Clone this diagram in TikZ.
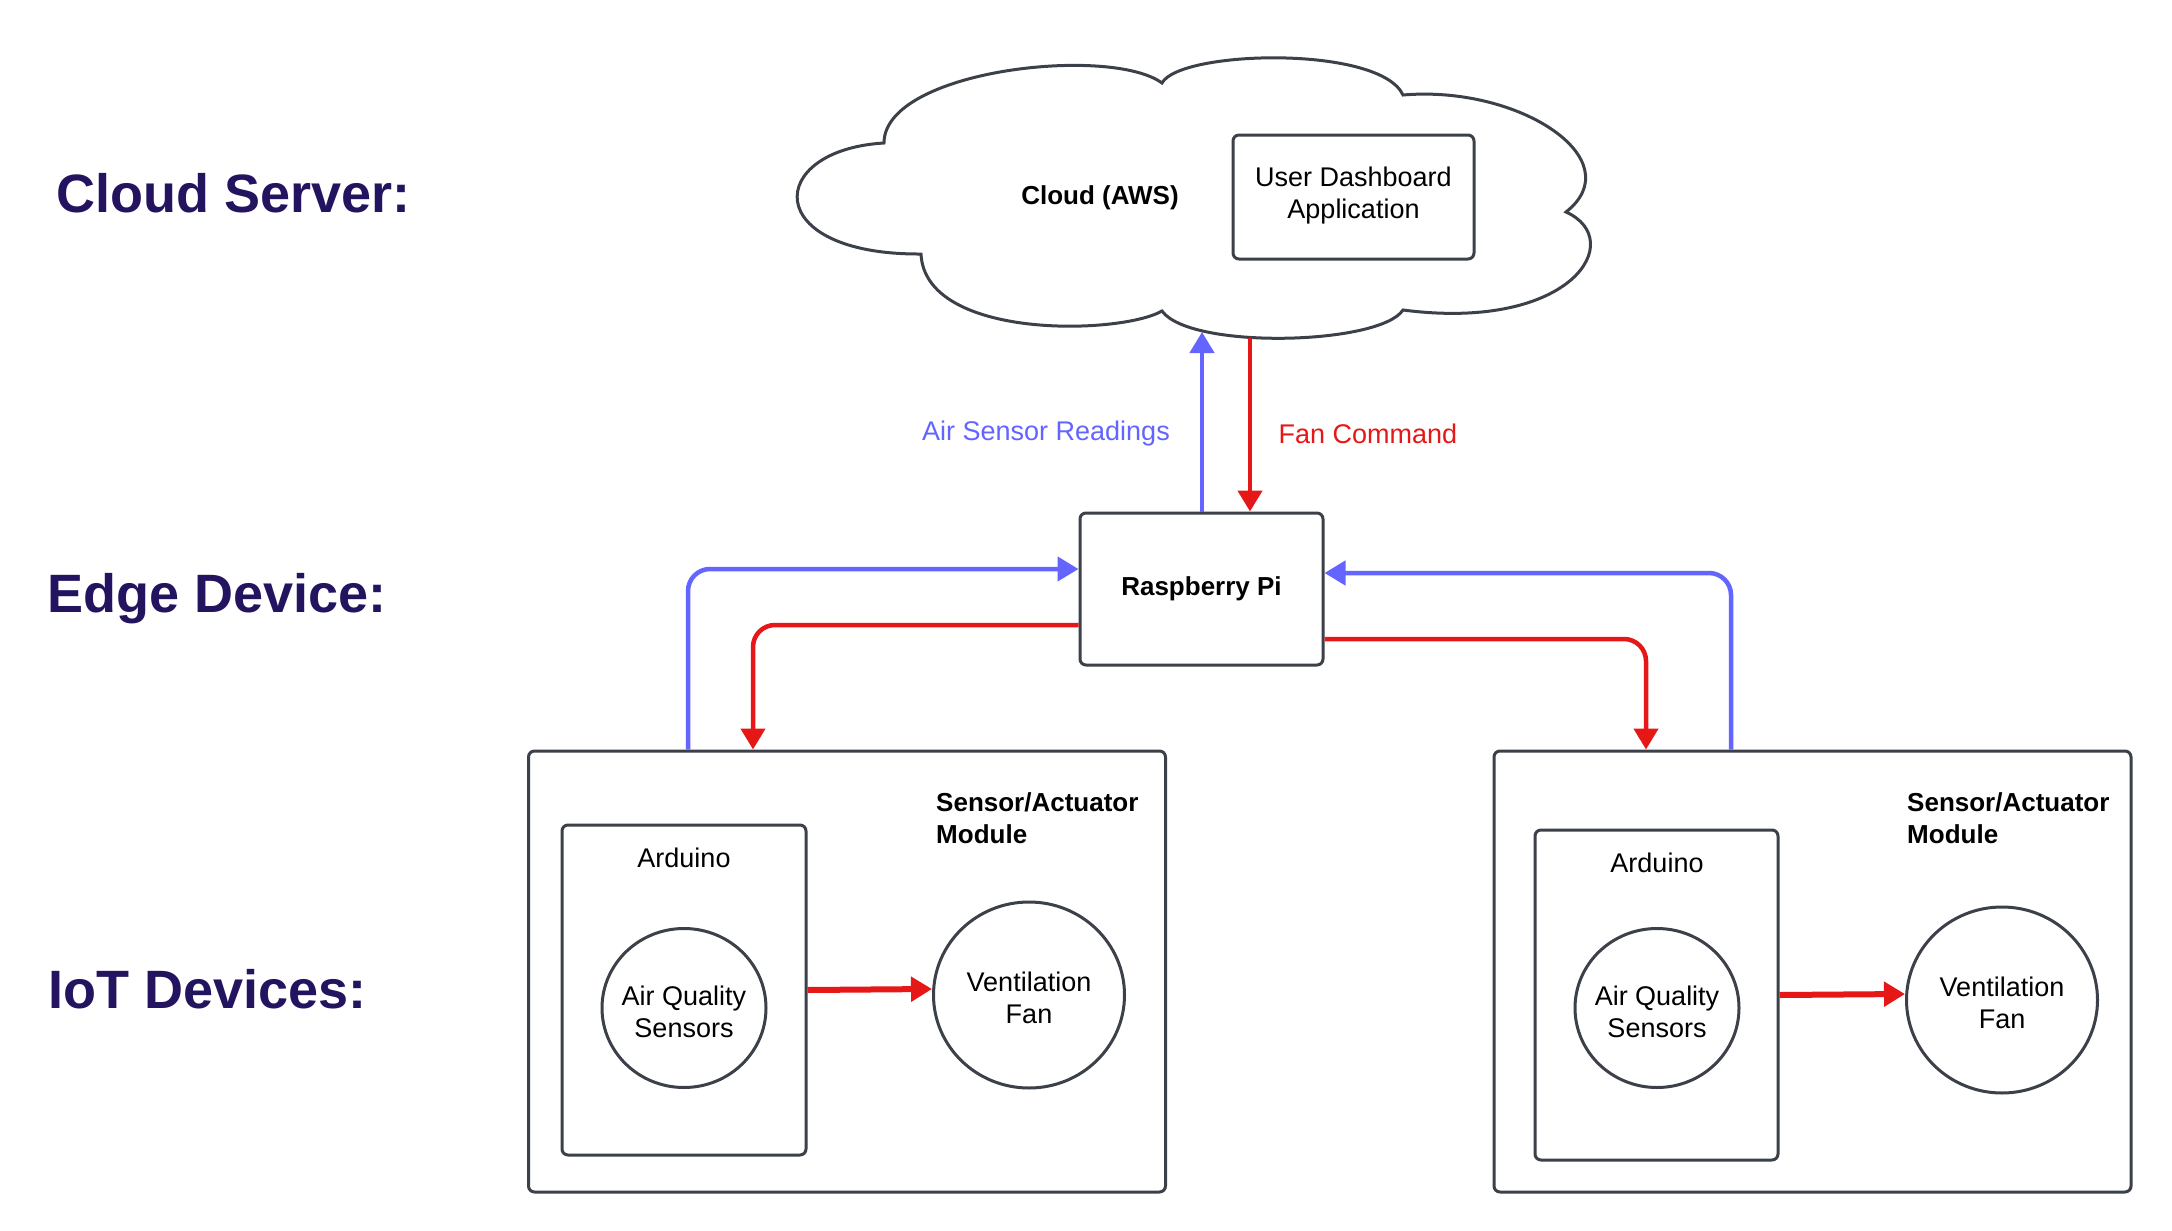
\documentclass[tikz,border=0pt]{standalone}
\usepackage{fontspec}
\setmainfont{Liberation Sans}
\usetikzlibrary{arrows.meta,calc,shapes.geometric}
\definecolor{navy}{HTML}{24135F}
\definecolor{bblue}{HTML}{6464FF}
\definecolor{rred}{HTML}{E61717}
\definecolor{edgec}{HTML}{3C4049}
\begin{document}
\begin{tikzpicture}[x=1pt,y=-1pt,
  box/.style={draw=edgec,line width=3pt,rounded corners=6pt,fill=white,inner sep=0pt},
  circ/.style={ellipse,draw=edgec,line width=3pt,fill=white,inner sep=0pt},
  body/.style={font=\fontsize{27}{32}\selectfont,align=center,inner sep=0pt},
  bodyb/.style={font=\fontsize{26}{32}\selectfont\bfseries,align=center,inner sep=0pt},
  modtxt/.style={font=\fontsize{26}{32}\selectfont\bfseries,align=left,anchor=west,inner sep=0pt},
  lvl/.style={font=\fontsize{54}{60}\selectfont\bfseries,text=navy,anchor=base west,inner sep=0pt},
  bluearr/.style={draw=bblue,line width=4.5pt,rounded corners=22pt,-{Triangle[length=21pt,width=24pt]}},
  redarr/.style={draw=rred,line width=4.5pt,rounded corners=22pt,-{Triangle[length=21pt,width=24pt]}}
]
\useasboundingbox[fill=white] (0,0) rectangle (2172,1231);

% level labels
\node[lvl] (lcloud) at (56,212) {Cloud Server:};
\node[lvl] (ledge) at (47,612) {Edge Device:};
\node[lvl] (liot) at (48,1008) {IoT Devices:};

% cloud
\draw[draw=edgec,line width=3pt,fill=white]
  (884,143) .. controls (884,70) and (1110,45) .. (1162,83)
  .. controls (1180,50) and (1380,45) .. (1403,95)
  .. controls (1520,85) and (1632,160) .. (1566,212)
  .. controls (1628,240) and (1572,332) .. (1403,310)
  .. controls (1380,345) and (1190,350) .. (1162,311)
  .. controls (1120,335) and (925,340) .. (921,254)
  .. controls (760,255) and (765,150) .. (884,143) -- cycle;
\node[bodyb] (cloudt) at (1100,198) {Cloud (AWS)};
\node[box,minimum width=241pt,minimum height=124pt] (dash) at (1353.5,197) {};
\node[body] (dasht) at (1353.5,196) {User Dashboard\\Application};

% edge device
\node[box,minimum width=243pt,minimum height=152pt] (pi) at (1201.5,589) {};
\node[bodyb] (pit) at (1201.5,589) {Raspberry Pi};

% modules
\node[box,minimum width=637pt,minimum height=441pt] (modL) at (847,971.5) {};
\node[box,minimum width=637pt,minimum height=441pt] (modR) at (1812.5,971.5) {};
\node[modtxt] (modLt) at (936,818) {Sensor/Actuator\\Module};
\node[modtxt] (modRt) at (1907,818) {Sensor/Actuator\\Module};

\node[box,minimum width=244pt,minimum height=330pt] (ardL) at (684,990) {};
\node[box,minimum width=243pt,minimum height=330pt] (ardR) at (1656.5,995) {};
\node[body] (ardLt) at (684,858) {Arduino};
\node[body] (ardRt) at (1657,863) {Arduino};

\node[circ,minimum width=164pt,minimum height=159pt] (aqL) at (684,1008) {};
\node[circ,minimum width=164pt,minimum height=159pt] (aqR) at (1657,1008) {};
\node[body] (aqLt) at (684,1012) {Air Quality\\Sensors};
\node[body] (aqRt) at (1657,1012) {Air Quality\\Sensors};

\node[circ,minimum width=191pt,minimum height=186pt] (fanL) at (1029,995) {};
\node[circ,minimum width=191pt,minimum height=186pt] (fanR) at (2002,1000) {};
\node[body] (fanLt) at (1029,998) {Ventilation\\Fan};
\node[body] (fanRt) at (2002,1003) {Ventilation\\Fan};

% connectors
\coordinate (cb1) at (1202,332);
\coordinate (cb2) at (1250,338);
\draw[bluearr] (pi.north -| cb1) -- (cb1);
\draw[redarr] (cb2) -- (pi.north -| cb2);
\node[body,text=bblue] (asr) at (1046,434) {Air Sensor Readings};
\node[body,text=rred] (fc) at (1368,434) {Fan Command};

\coordinate (bl1) at (688,569);
\coordinate (rl1) at (753,625);
\coordinate (br1) at (1731,573);
\coordinate (rr1) at (1646,639);
\draw[bluearr] (modL.north -| bl1) -- (bl1) -- (pi.west |- bl1);
\draw[redarr] (pi.west |- rl1) -- (rl1) -- (modL.north -| rl1);
\draw[bluearr] (modR.north -| br1) -- (br1) -- (pi.east |- br1);
\draw[redarr] (pi.east |- rr1) -- (rr1) -- (modR.north -| rr1);

\coordinate (fL) at ($(fanL.west)+(0,-6)$);
\coordinate (fR) at ($(fanR.west)+(0,-6)$);
\draw[redarr,line width=6pt] (ardL.east) -- (fL);
\draw[redarr,line width=6pt] (ardR.east) -- (fR);
\end{tikzpicture}
\end{document}
